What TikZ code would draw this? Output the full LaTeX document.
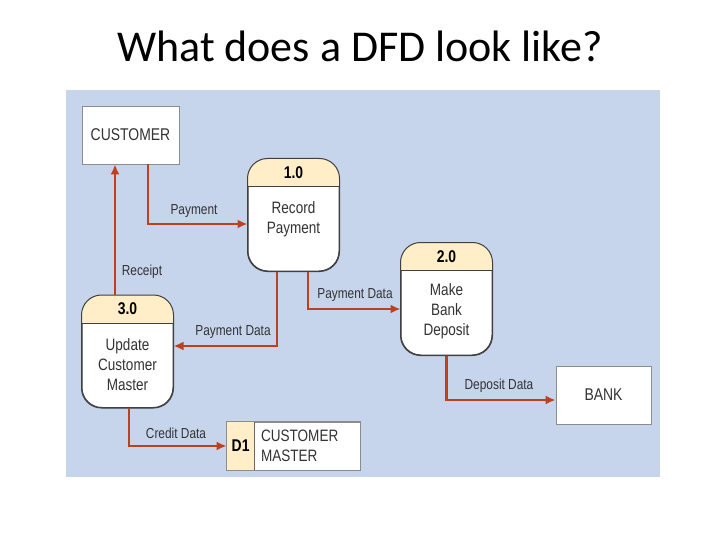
\documentclass[tikz,border=0pt]{standalone}
\usepackage{fontspec}
\setmainfont{Carlito}
\newfontfamily\dfd[FakeStretch=0.82]{Liberation Sans}
\begin{document}
\begin{tikzpicture}[x=1pt,y=-1pt,
  flow/.style={draw=arrowc,line width=2.8pt,-{Latex[length=10pt,width=9pt]}},
  lbl/.style={font=\dfd\fontsize{14.5}{16}\selectfont,text=black!80,inner sep=1pt},
  ext/.style={draw=black!45,fill=white,line width=0.8pt,minimum width=97pt,minimum height=58pt,font=\dfd\fontsize{17}{19}\selectfont,text=black!80},
  proc/.style={draw=black!75,fill=white,line width=1pt,rounded corners=20pt,minimum width=91pt,minimum height=112pt,inner sep=0pt},
  ptext/.style={font=\dfd\fontsize{16.5}{20}\selectfont,align=center,text=black!80},
  phead/.style={font=\dfd\bfseries\fontsize{17}{19}\selectfont}]
\usetikzlibrary{arrows.meta}
\definecolor{panel}{RGB}{198,212,236}
\definecolor{cream}{RGB}{255,238,200}
\definecolor{arrowc}{RGB}{190,65,30}
\useasboundingbox (0,0) rectangle (720,540);
\fill[white] (0,0) rectangle (720,540);
\node[font=\fontsize{44}{48}\selectfont] (title) at (360,46) {What does a DFD look like?};
\fill[panel] (66,90) rectangle (660,477);
\node[ext] (cust) at (130.5,135) {CUSTOMER};
\node[ext,minimum width=95pt] (bank) at (603.5,395) {BANK};
\foreach \n/\cx/\cy/\hd in {p1/293.5/215/1.0, p2/446.5/299/2.0, p3/127.5/351.5/3.0}{
  \node[proc] (\n) at (\cx,\cy) {};
  \begin{scope}
    \clip[rounded corners=20pt] (\n.south west) rectangle (\n.north east);
    \fill[cream] (\n.north west) rectangle ([yshift=-28pt]\n.north east);
  \end{scope}
  \draw[black!75,line width=1pt,rounded corners=20pt] (\n.south west) rectangle (\n.north east);
  \draw[black!75,line width=0.8pt] ([yshift=-28pt]\n.north west) -- ([yshift=-28pt]\n.north east);
  \node[phead] at ([yshift=-14pt]\n.north) {\hd};
}
\node[ptext] (t1) at (293.5,219) {Record\\Payment};
\node[ptext] (t2) at (446.5,311) {Make\\Bank\\Deposit};
\node[ptext] (t3) at (127.5,365) {Update\\Customer\\Master};
\node[draw=black!45,fill=white,line width=0.8pt,minimum width=133pt,minimum height=48pt] (ds) at (293.5,446) {};
\fill[cream] (ds.north west) rectangle ([xshift=28pt]ds.south west);
\draw[black!45,line width=0.8pt] (ds.north west) rectangle (ds.south east);
\draw[black!60,line width=0.8pt] ([xshift=28pt]ds.north west) -- ([xshift=28pt]ds.south west);
\node[phead] at ([xshift=14pt]ds.west) {D1};
\node[font=\dfd\fontsize{16.5}{20}\selectfont,align=left,anchor=west,text=black!80] at ([xshift=31pt]ds.west) {CUSTOMER\\MASTER};
\draw[flow] ([xshift=17.5pt]cust.south) |- (p1.west |- 0,224);
\draw[flow] (p3.north -| 115,0) -- (cust.south -| 115,0);
\draw[flow] (p1.south -| 308,0) |- (p2.west |- 0,309);
\draw[flow] (p1.south -| 277,0) |- (p3.east |- 0,346);
\draw[flow] (p2.south) |- (bank.west |- 0,400);
\draw[flow] ([xshift=1.5pt]p3.south) |- (ds.west);
\node[lbl] at (194,211) {Payment};
\node[lbl] at (142,272) {Receipt};
\node[lbl] at (355,295) {Payment Data};
\node[lbl] at (233,332) {Payment Data};
\node[lbl] at (499,386) {Deposit Data};
\node[lbl] at (176,433) {Credit Data};
\end{tikzpicture}
\end{document}
